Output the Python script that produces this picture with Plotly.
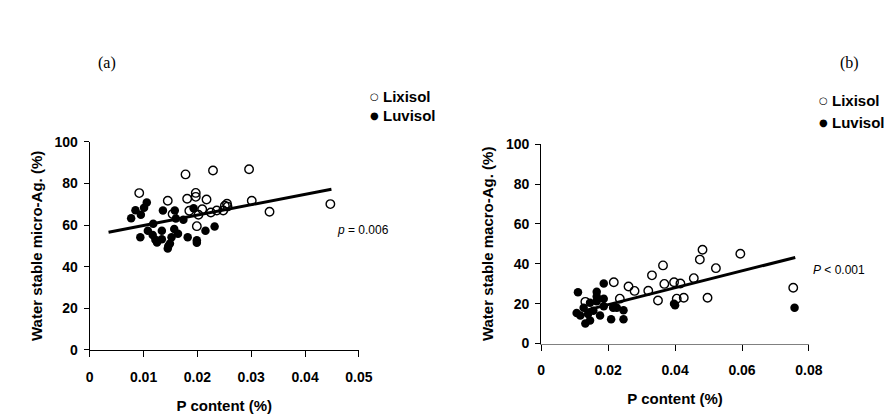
import plotly.graph_objects as go

# ---------------- data: panel (a) micro-aggregates ----------------
lix_a_p = [0.0092, 0.0178, 0.0229, 0.0296, 0.0145, 0.0181, 0.0197, 0.0197, 0.0217,
           0.0185, 0.0209, 0.0154, 0.0202, 0.0225, 0.0236, 0.0248, 0.0251, 0.0255,
           0.0256, 0.0301, 0.0334, 0.0447, 0.0199]
lix_a_v = [75.4, 84.4, 86.3, 86.9, 71.7, 72.7, 75.5, 73.6, 72.3,
           66.9, 67.6, 65.3, 65.0, 66.1, 67.0, 67.0, 69.3, 70.3,
           68.9, 71.7, 66.4, 70.1, 59.5]
luv_a_p = [0.0077, 0.0085, 0.0095, 0.0101, 0.0106, 0.0094, 0.0108, 0.0118, 0.0117,
           0.0125, 0.0134, 0.0136, 0.0134, 0.0145, 0.0149, 0.0152, 0.0158, 0.0157,
           0.0160, 0.0164, 0.0174, 0.0182, 0.0193, 0.0199, 0.0199, 0.0215, 0.0232,
           0.0122, 0.0146]
luv_a_v = [63.3, 67.2, 65.0, 68.4, 70.9, 54.2, 57.3, 60.7, 55.3,
           51.6, 57.3, 67.0, 53.2, 48.8, 51.1, 54.2, 67.0, 58.1,
           63.2, 55.8, 62.6, 54.2, 68.1, 52.7, 51.5, 57.3, 59.3,
           53.0, 50.0]
fit_a = {"intercept": 54.8, "slope": 500.0, "x0": 0.0035, "x1": 0.0449}

# ---------------- data: panel (b) macro-aggregates ----------------
lix_b_p = [0.0132, 0.0217, 0.0235, 0.0261, 0.0279, 0.0320, 0.0331, 0.0349, 0.0364,
           0.0368, 0.0397, 0.0405, 0.0416, 0.0426, 0.0456, 0.0474, 0.0482, 0.0497,
           0.0522, 0.0595, 0.0753]
lix_b_v = [20.9, 30.7, 22.5, 28.6, 26.4, 26.5, 34.2, 21.6, 39.2,
           29.9, 30.7, 22.5, 30.1, 23.0, 32.8, 42.1, 47.0, 23.0,
           37.8, 45.0, 28.0]
luv_b_p = [0.0110, 0.0106, 0.0127, 0.0132, 0.0140, 0.0146, 0.0146, 0.0166, 0.0166,
           0.0166, 0.0176, 0.0187, 0.0187, 0.0187, 0.0209, 0.0215, 0.0226, 0.0246,
           0.0246, 0.0397, 0.0400, 0.0757, 0.0117, 0.0156]
luv_b_v = [25.7, 15.3, 18.0, 10.0, 14.8, 20.4, 11.6, 26.0, 23.6,
           21.2, 14.0, 30.1, 22.5, 18.7, 12.2, 18.0, 18.0, 16.7,
           12.2, 20.0, 19.2, 18.0, 14.0, 16.4]
fit_b = {"intercept": 11.0, "slope": 424.0, "x0": 0.0127, "x1": 0.0759}

y_ticks = [0, 20, 40, 60, 80, 100]

# ---------------- figure ----------------
W, H = 896, 414
def px(x): return x / W
def py(y): return 1 - y / H

FONT = "Liberation Sans, Arial, sans-serif"
fig = go.Figure()

open_marker = dict(symbol="circle-open", size=8.5, color="black", line=dict(width=1.4, color="black"))
fill_marker = dict(symbol="circle", size=8.5, color="black")

def add_panel(xa, ya, lx, lv, ux, uv, fit):
    fig.add_trace(go.Scatter(x=lx, y=lv, mode="markers", marker=open_marker, name="Lixisol",
                             xaxis=xa, yaxis=ya, showlegend=False, cliponaxis=False))
    fig.add_trace(go.Scatter(x=ux, y=uv, mode="markers", marker=fill_marker, name="Luvisol",
                             xaxis=xa, yaxis=ya, showlegend=False, cliponaxis=False))
    xs = [fit["x0"], fit["x1"]]
    ys = [fit["intercept"] + fit["slope"] * v for v in xs]
    fig.add_trace(go.Scatter(x=xs, y=ys, mode="lines", line=dict(color="black", width=3),
                             xaxis=xa, yaxis=ya, showlegend=False, hoverinfo="skip"))

add_panel("x", "y", lix_a_p, lix_a_v, luv_a_p, luv_a_v, fit_a)
add_panel("x2", "y2", lix_b_p, lix_b_v, luv_b_p, luv_b_v, fit_b)

tickfont = dict(family=FONT, size=14, color="black", weight="bold")
titlefont = dict(family=FONT, size=15, color="black", weight="bold")

common_x = dict(showgrid=False, zeroline=False, showline=True, linewidth=1,
                ticks="outside", ticklen=6, tickcolor="black", tickwidth=1,
                tickfont=tickfont, ticklabelstandoff=8, title_font=titlefont,
                title_standoff=16)
common_y = dict(showgrid=False, zeroline=False, showline=True, linewidth=1, linecolor="black",
                ticks="outside", ticklen=5, tickcolor="black", tickwidth=1,
                tickfont=tickfont, ticklabelstandoff=3, title_font=titlefont,
                tickvals=y_ticks, range=[0, 100], title_standoff=8)

fig.update_layout(
    width=W, height=H, margin=dict(l=0, r=0, t=0, b=0),
    paper_bgcolor="white", plot_bgcolor="white", showlegend=False,
    xaxis=dict(domain=[px(79.3), px(354)], range=[0, 0.05], dtick=0.01, tick0=0,
               linecolor="black", anchor="y",
               title_text="P content (%)", **common_x),
    yaxis=dict(domain=[py(347.3), py(131)], anchor="x",
               title_text="Water stable micro-Ag. (%)", **common_y),
    xaxis2=dict(domain=[px(540), px(813.3)], range=[0, 0.08], dtick=0.02, tick0=0,
                linecolor="#808080", anchor="y2",
                title_text="P content (%)", **common_x),
    yaxis2=dict(domain=[py(340.7), py(133.3)], anchor="x2",
                title_text="Water stable macro-Ag. (%)", **common_y),
)

ann = []
def legend_item(cx, cy, glyph, label):
    ann.append(dict(x=px(cx), y=py(cy), xref="paper", yref="paper", text=glyph,
                    showarrow=False, xanchor="center", yanchor="middle",
                    font=dict(family="DejaVu Sans", size=10, color="black")))
    ann.append(dict(x=px(cx + 7), y=py(cy), xref="paper", yref="paper", text="<b>" + label + "</b>",
                    showarrow=False, xanchor="left", yanchor="middle",
                    font=dict(family=FONT, size=15, color="black")))

legend_item(370, 84, "○", "Lixisol")
legend_item(370, 103, "●", "Luvisol")
legend_item(828, 88, "○", "Lixisol")
legend_item(828, 111, "●", "Luvisol")

ann.append(dict(x=px(330), y=py(223), xref="paper", yref="paper", text="<i>p</i> = 0.006",
                showarrow=False, xanchor="left", yanchor="middle",
                font=dict(family=FONT, size=12, color="black")))
ann.append(dict(x=px(815), y=py(264), xref="paper", yref="paper", text="<i>P</i> < 0.001",
                showarrow=False, xanchor="left", yanchor="middle",
                font=dict(family=FONT, size=12, color="black")))
ann.append(dict(x=px(97), y=py(49), xref="paper", yref="paper", text="(a)",
                showarrow=False, xanchor="center", yanchor="middle",
                font=dict(family="Liberation Serif", size=16, color="black")))
ann.append(dict(x=px(855), y=py(49), xref="paper", yref="paper", text="(b)",
                showarrow=False, xanchor="center", yanchor="middle",
                font=dict(family="Liberation Serif", size=16, color="black")))

fig.update_layout(annotations=ann)
fig.write_html("out.html")
